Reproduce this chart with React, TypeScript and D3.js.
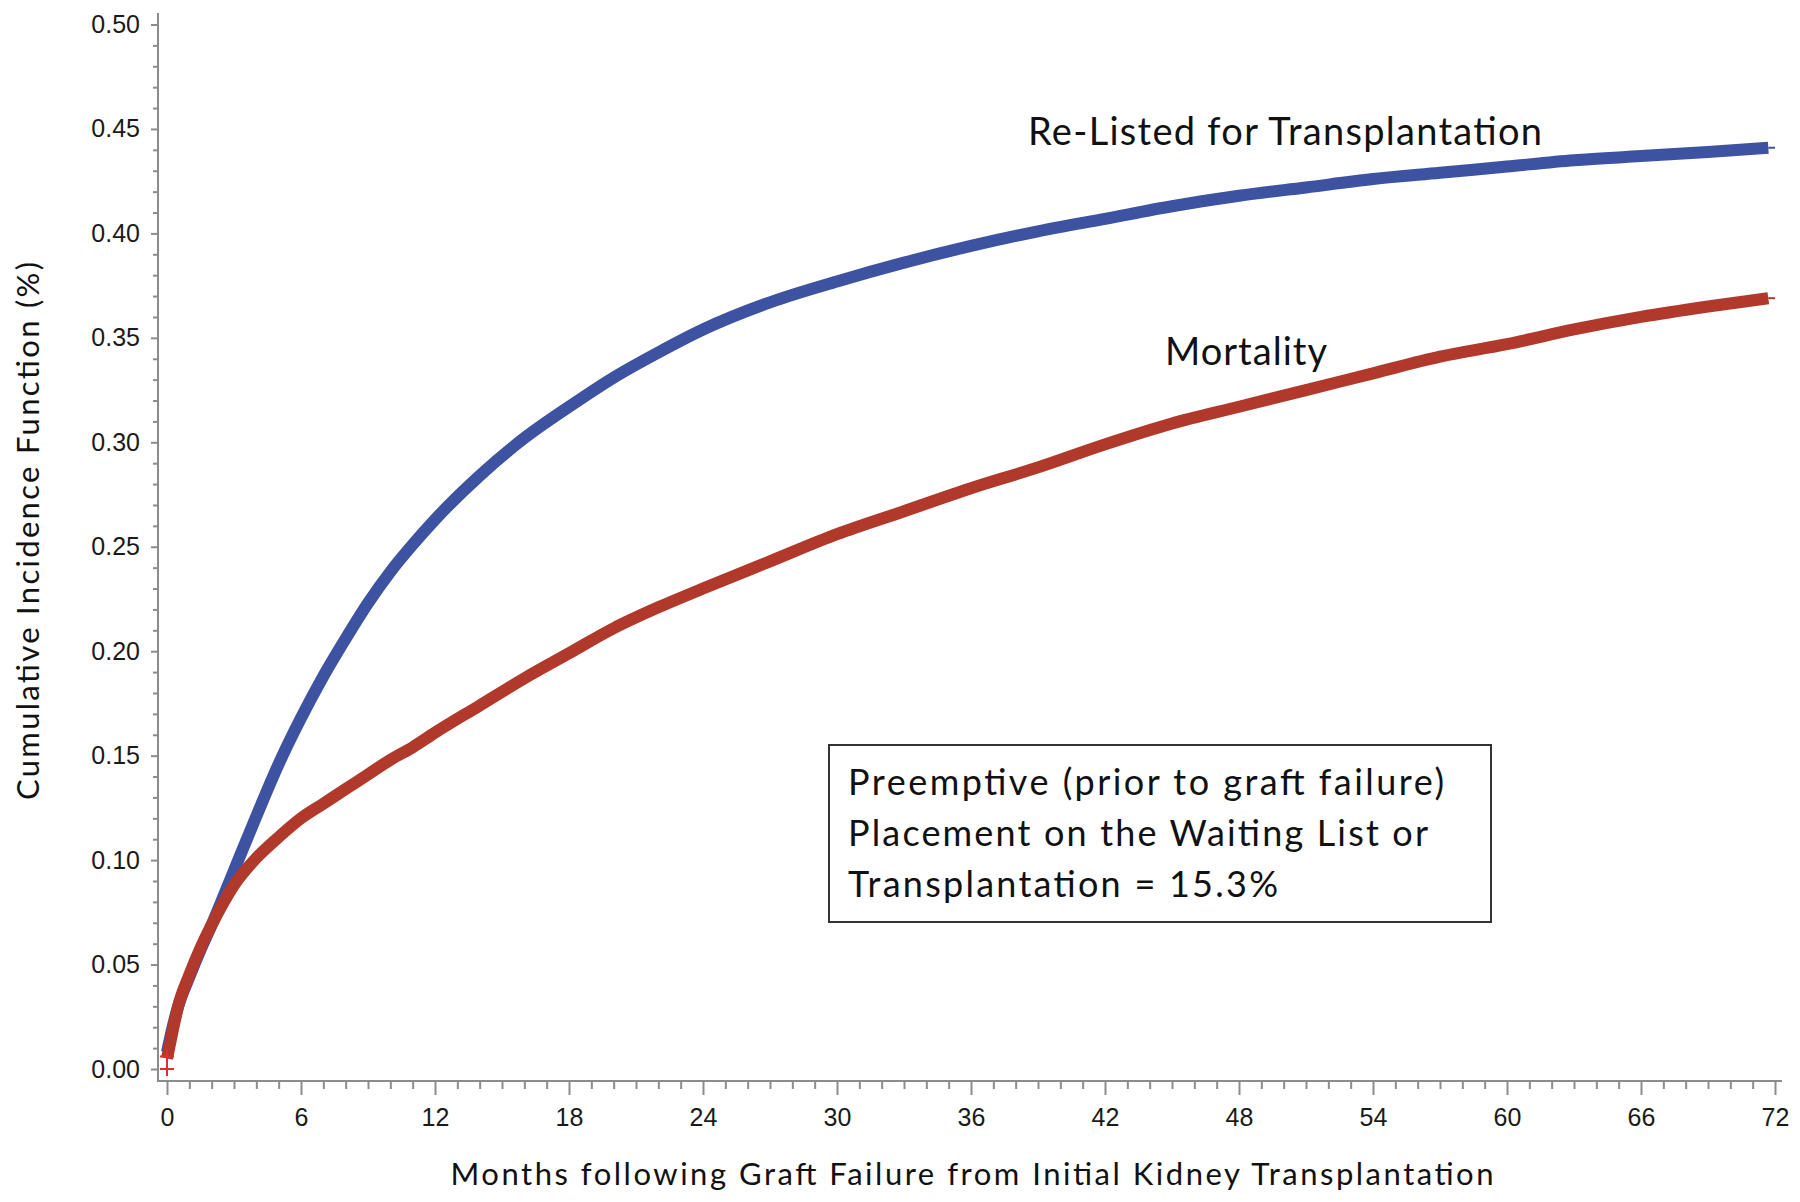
import React, { useEffect, useRef } from "react";
import * as d3 from "d3";

// months after graft failure
const months = [
  0, 0.25, 0.5, 1, 1.5, 2, 3, 4, 5, 6, 7, 8, 9, 10, 11, 12, 14, 16, 18, 20, 22,
  24, 27, 30, 33, 36, 39, 42, 45, 48, 51, 54, 57, 60, 63, 66, 69, 71.7,
];

// cumulative incidence, re-listed for transplantation (blue)
const relisted = [
  0.008, 0.02, 0.03, 0.044, 0.057, 0.069, 0.095, 0.121, 0.146, 0.168, 0.188,
  0.206, 0.223, 0.238, 0.251, 0.263, 0.284, 0.302, 0.317, 0.331, 0.343, 0.354,
  0.367, 0.377, 0.386, 0.394, 0.401, 0.407, 0.413, 0.418, 0.422, 0.426, 0.429,
  0.432, 0.435, 0.437, 0.439, 0.441,
];

// cumulative incidence, mortality (red)
const mortality = [
  0.005, 0.018, 0.03, 0.045, 0.058, 0.069, 0.088, 0.101, 0.111, 0.12, 0.127,
  0.134, 0.141, 0.148, 0.154, 0.161, 0.174, 0.187, 0.199, 0.211, 0.221, 0.23,
  0.243, 0.256, 0.267, 0.278, 0.288, 0.299, 0.309, 0.317, 0.325, 0.333, 0.341,
  0.347, 0.354, 0.36, 0.365, 0.369,
];

const xTicks = [0, 6, 12, 18, 24, 30, 36, 42, 48, 54, 60, 66, 72];
const yTicks = [0, 0.05, 0.1, 0.15, 0.2, 0.25, 0.3, 0.35, 0.4, 0.45, 0.5];

const boxLines = [
  "Preemptive (prior to graft failure)",
  "Placement on the Waiting List or",
  "Transplantation = 15.3%",
];

const App = () => {
  const ref = useRef(null);

  useEffect(() => {
    const svg = d3.select(ref.current);
    svg.selectAll("*").remove();

    const axisColor = "#8c8c8c";
    const tickFont = "'Liberation Sans', Arial, sans-serif";
    const textFont = "Lato, 'Noto Sans', sans-serif";

    const x = d3.scaleLinear().domain([0, 72]).range([167, 1775]);
    const y = d3.scaleLinear().domain([0, 0.5]).range([1069, 24.5]);

    // y axis
    svg
      .append("line")
      .attr("x1", 158)
      .attr("x2", 158)
      .attr("y1", 13)
      .attr("y2", 1081)
      .attr("stroke", axisColor)
      .attr("stroke-width", 2);

    const yMinor = d3.range(0, 51).map((d) => d / 100).filter((d, i) => i % 5 !== 0);

    svg
      .append("g")
      .attr("transform", "translate(158,0)")
      .call(d3.axisLeft(y).tickValues(yMinor).tickSize(5).tickFormat(() => ""))
      .call((g) => g.select(".domain").remove())
      .call((g) => g.selectAll("line").attr("stroke", axisColor).attr("stroke-width", 2));

    svg
      .append("g")
      .attr("transform", "translate(158,0)")
      .call(
        d3.axisLeft(y).tickValues(yTicks).tickSize(7).tickPadding(11).tickFormat(d3.format(".2f"))
      )
      .call((g) => g.select(".domain").remove())
      .call((g) => g.selectAll("line").attr("stroke", axisColor).attr("stroke-width", 2))
      .call((g) =>
        g
          .selectAll("text")
          .attr("font-family", tickFont)
          .attr("font-size", 25)
          .attr("fill", "#1a1a1a")
      );

    // x axis
    svg
      .append("line")
      .attr("x1", 157)
      .attr("x2", 1782)
      .attr("y1", 1081)
      .attr("y2", 1081)
      .attr("stroke", axisColor)
      .attr("stroke-width", 2);

    const xMinor = d3.range(0, 73).filter((d) => d % 6 !== 0);

    svg
      .append("g")
      .attr("transform", "translate(0,1081)")
      .call(d3.axisBottom(x).tickValues(xMinor).tickSize(8).tickFormat(() => ""))
      .call((g) => g.select(".domain").remove())
      .call((g) => g.selectAll("line").attr("stroke", axisColor).attr("stroke-width", 2));

    svg
      .append("g")
      .attr("transform", "translate(0,1081)")
      .call(d3.axisBottom(x).tickValues(xTicks).tickSize(14).tickPadding(13).tickFormat(d3.format("d")))
      .call((g) => g.select(".domain").remove())
      .call((g) => g.selectAll("line").attr("stroke", axisColor).attr("stroke-width", 2))
      .call((g) =>
        g
          .selectAll("text")
          .attr("font-family", tickFont)
          .attr("font-size", 25)
          .attr("fill", "#1a1a1a")
      );

    // axis titles
    svg
      .append("text")
      .attr("x", 972)
      .attr("y", 1185)
      .attr("text-anchor", "middle")
      .attr("font-family", textFont)
      .attr("font-size", 31)
      .attr("fill", "#111")
      .attr("textLength", 1043)
      .attr("lengthAdjust", "spacing")
      .text("Months following Graft Failure from Initial Kidney Transplantation");

    svg
      .append("text")
      .attr("transform", "translate(39,531) rotate(-90)")
      .attr("text-anchor", "middle")
      .attr("font-family", textFont)
      .attr("font-size", 31)
      .attr("fill", "#111")
      .attr("textLength", 538)
      .attr("lengthAdjust", "spacing")
      .text("Cumulative Incidence Function (%)");

    // curves
    const series = [
      { values: relisted, color: "#3d52a1" },
      { values: mortality, color: "#b0392c" },
    ];

    const line = d3
      .line()
      .x((d) => x(d[0]))
      .y((d) => y(d[1]))
      .curve(d3.curveMonotoneX);

    series.forEach((s) => {
      const pts = months.map((m, i) => [m, s.values[i]]);
      svg
        .append("path")
        .attr("d", line(pts))
        .attr("fill", "none")
        .attr("stroke", s.color)
        .attr("stroke-width", 12)
        .attr("stroke-linecap", "butt");
      // thin tail to 72 months
      const last = s.values[s.values.length - 1];
      svg
        .append("line")
        .attr("x1", x(71.7))
        .attr("x2", x(72))
        .attr("y1", y(last))
        .attr("y2", y(last))
        .attr("stroke", s.color)
        .attr("stroke-width", 2);
    });

    // start markers (+)
    [0, 0.006].forEach((v) => {
      svg
        .append("path")
        .attr("d", "M-7,0H7M0,-7V7")
        .attr("transform", `translate(${x(0)},${y(v)})`)
        .attr("stroke", "#d9302a")
        .attr("stroke-width", 2);
    });

    // curve labels
    svg
      .append("text")
      .attr("x", 1028)
      .attr("y", 145)
      .attr("font-family", textFont)
      .attr("font-size", 38)
      .attr("fill", "#111")
      .attr("textLength", 514)
      .attr("lengthAdjust", "spacing")
      .text("Re-Listed for Transplantation");

    svg
      .append("text")
      .attr("x", 1165)
      .attr("y", 365)
      .attr("font-family", textFont)
      .attr("font-size", 38)
      .attr("fill", "#111")
      .attr("textLength", 162)
      .attr("lengthAdjust", "spacing")
      .text("Mortality");

    // annotation box
    svg
      .append("rect")
      .attr("x", 829)
      .attr("y", 745)
      .attr("width", 662)
      .attr("height", 177)
      .attr("fill", "#fff")
      .attr("stroke", "#333")
      .attr("stroke-width", 2);

    const boxWidths = [596, 580, 430];
    svg
      .append("g")
      .selectAll("text")
      .data(boxLines)
      .join("text")
      .attr("x", 848)
      .attr("y", (d, i) => 795 + i * 51)
      .attr("font-family", textFont)
      .attr("font-size", 36)
      .attr("fill", "#111")
      .attr("textLength", (d, i) => boxWidths[i])
      .attr("lengthAdjust", "spacing")
      .text((d) => d);
  }, []);

  return (
    <svg
      ref={ref}
      width={1800}
      height={1202}
      style={{ position: "absolute", left: 0, top: 0, background: "#fff" }}
    />
  );
};

export default App;
